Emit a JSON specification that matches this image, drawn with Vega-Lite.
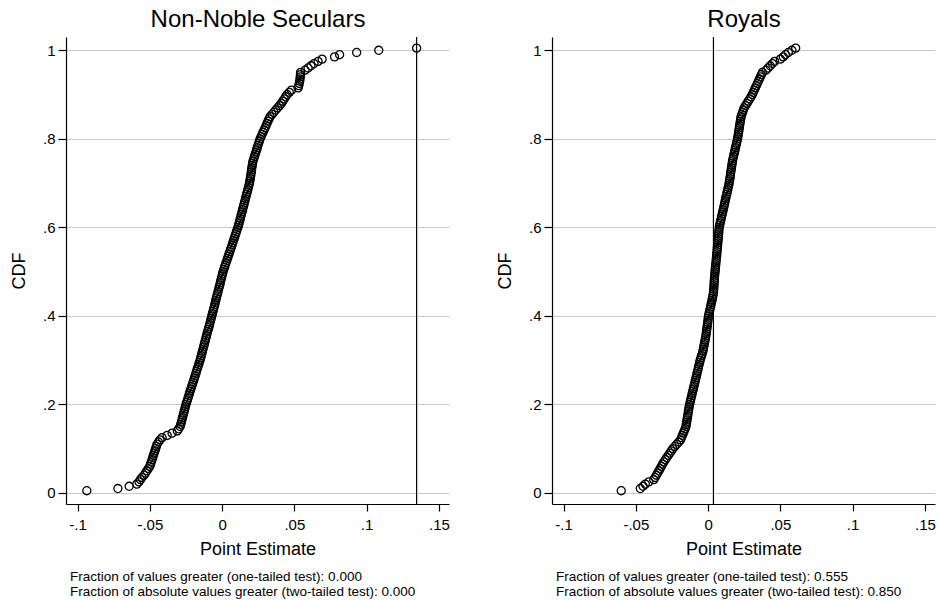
{
"$schema": "https://vega.github.io/schema/vega-lite/v6.json",
"background": "white",
"padding": {"left": 10, "top": 7, "right": 0, "bottom": 0},
"spacing": 46,
"config": {
  "font": "Liberation Sans",
  "view": {"stroke": null},
  "axis": {"labelColor": "black", "titleColor": "black", "domainColor": "black", "tickColor": "black", "labelFont": "Liberation Sans", "titleFont": "Liberation Sans", "titleFontWeight": "normal", "domainWidth": 1.2, "tickWidth": 1.2}
},
"datasets": {
"nns": [
{"cdf":0.005,"est":-0.0936},{"cdf":0.010,"est":-0.0721},{"cdf":0.015,"est":-0.0643},{"cdf":0.020,"est":-0.0590},{"cdf":0.025,"est":-0.0575},
{"cdf":0.030,"est":-0.0565},{"cdf":0.035,"est":-0.0555},{"cdf":0.040,"est":-0.0540},{"cdf":0.045,"est":-0.0530},{"cdf":0.050,"est":-0.0520},
{"cdf":0.055,"est":-0.0510},{"cdf":0.060,"est":-0.0500},{"cdf":0.065,"est":-0.0495},{"cdf":0.070,"est":-0.0490},{"cdf":0.075,"est":-0.0485},
{"cdf":0.080,"est":-0.0480},{"cdf":0.085,"est":-0.0475},{"cdf":0.090,"est":-0.0470},{"cdf":0.095,"est":-0.0465},{"cdf":0.100,"est":-0.0460},
{"cdf":0.105,"est":-0.0455},{"cdf":0.110,"est":-0.0450},{"cdf":0.115,"est":-0.0440},{"cdf":0.120,"est":-0.0430},{"cdf":0.125,"est":-0.0415},
{"cdf":0.130,"est":-0.0380},{"cdf":0.135,"est":-0.0346},{"cdf":0.140,"est":-0.0310},{"cdf":0.145,"est":-0.0300},{"cdf":0.150,"est":-0.0290},
{"cdf":0.155,"est":-0.0286},{"cdf":0.160,"est":-0.0282},{"cdf":0.165,"est":-0.0278},{"cdf":0.170,"est":-0.0274},{"cdf":0.175,"est":-0.0270},
{"cdf":0.180,"est":-0.0266},{"cdf":0.185,"est":-0.0262},{"cdf":0.190,"est":-0.0258},{"cdf":0.195,"est":-0.0254},{"cdf":0.200,"est":-0.0250},
{"cdf":0.205,"est":-0.0245},{"cdf":0.210,"est":-0.0240},{"cdf":0.215,"est":-0.0235},{"cdf":0.220,"est":-0.0230},{"cdf":0.225,"est":-0.0226},
{"cdf":0.230,"est":-0.0221},{"cdf":0.235,"est":-0.0216},{"cdf":0.240,"est":-0.0211},{"cdf":0.245,"est":-0.0206},{"cdf":0.250,"est":-0.0201},
{"cdf":0.255,"est":-0.0196},{"cdf":0.260,"est":-0.0191},{"cdf":0.265,"est":-0.0186},{"cdf":0.270,"est":-0.0181},{"cdf":0.275,"est":-0.0177},
{"cdf":0.280,"est":-0.0172},{"cdf":0.285,"est":-0.0167},{"cdf":0.290,"est":-0.0162},{"cdf":0.295,"est":-0.0157},{"cdf":0.300,"est":-0.0152},
{"cdf":0.305,"est":-0.0148},{"cdf":0.310,"est":-0.0144},{"cdf":0.315,"est":-0.0140},{"cdf":0.320,"est":-0.0136},{"cdf":0.325,"est":-0.0132},
{"cdf":0.330,"est":-0.0128},{"cdf":0.335,"est":-0.0124},{"cdf":0.340,"est":-0.0120},{"cdf":0.345,"est":-0.0116},{"cdf":0.350,"est":-0.0112},
{"cdf":0.355,"est":-0.0108},{"cdf":0.360,"est":-0.0104},{"cdf":0.365,"est":-0.0100},{"cdf":0.370,"est":-0.0095},{"cdf":0.375,"est":-0.0091},
{"cdf":0.380,"est":-0.0087},{"cdf":0.385,"est":-0.0083},{"cdf":0.390,"est":-0.0079},{"cdf":0.395,"est":-0.0075},{"cdf":0.400,"est":-0.0071},
{"cdf":0.405,"est":-0.0067},{"cdf":0.410,"est":-0.0063},{"cdf":0.415,"est":-0.0059},{"cdf":0.420,"est":-0.0055},{"cdf":0.425,"est":-0.0051},
{"cdf":0.430,"est":-0.0047},{"cdf":0.435,"est":-0.0044},{"cdf":0.440,"est":-0.0040},{"cdf":0.445,"est":-0.0036},{"cdf":0.450,"est":-0.0032},
{"cdf":0.455,"est":-0.0028},{"cdf":0.460,"est":-0.0024},{"cdf":0.465,"est":-0.0020},{"cdf":0.470,"est":-0.0016},{"cdf":0.475,"est":-0.0012},
{"cdf":0.480,"est":-0.0009},{"cdf":0.485,"est":-0.0005},{"cdf":0.490,"est":-0.0001},{"cdf":0.495,"est":0.0003},{"cdf":0.500,"est":0.0007},
{"cdf":0.505,"est":0.0012},{"cdf":0.510,"est":0.0017},{"cdf":0.515,"est":0.0022},{"cdf":0.520,"est":0.0027},{"cdf":0.525,"est":0.0033},
{"cdf":0.530,"est":0.0038},{"cdf":0.535,"est":0.0043},{"cdf":0.540,"est":0.0048},{"cdf":0.545,"est":0.0053},{"cdf":0.550,"est":0.0058},
{"cdf":0.555,"est":0.0064},{"cdf":0.560,"est":0.0069},{"cdf":0.565,"est":0.0074},{"cdf":0.570,"est":0.0079},{"cdf":0.575,"est":0.0084},
{"cdf":0.580,"est":0.0089},{"cdf":0.585,"est":0.0094},{"cdf":0.590,"est":0.0099},{"cdf":0.595,"est":0.0104},{"cdf":0.600,"est":0.0110},
{"cdf":0.605,"est":0.0114},{"cdf":0.610,"est":0.0118},{"cdf":0.615,"est":0.0122},{"cdf":0.620,"est":0.0126},{"cdf":0.625,"est":0.0130},
{"cdf":0.630,"est":0.0134},{"cdf":0.635,"est":0.0138},{"cdf":0.640,"est":0.0142},{"cdf":0.645,"est":0.0146},{"cdf":0.650,"est":0.0150},
{"cdf":0.655,"est":0.0154},{"cdf":0.660,"est":0.0158},{"cdf":0.665,"est":0.0162},{"cdf":0.670,"est":0.0166},{"cdf":0.675,"est":0.0170},
{"cdf":0.680,"est":0.0174},{"cdf":0.685,"est":0.0178},{"cdf":0.690,"est":0.0182},{"cdf":0.695,"est":0.0186},{"cdf":0.700,"est":0.0190},
{"cdf":0.705,"est":0.0192},{"cdf":0.710,"est":0.0195},{"cdf":0.715,"est":0.0197},{"cdf":0.720,"est":0.0200},{"cdf":0.725,"est":0.0202},
{"cdf":0.730,"est":0.0204},{"cdf":0.735,"est":0.0206},{"cdf":0.740,"est":0.0209},{"cdf":0.745,"est":0.0211},{"cdf":0.750,"est":0.0214},
{"cdf":0.755,"est":0.0219},{"cdf":0.760,"est":0.0224},{"cdf":0.765,"est":0.0229},{"cdf":0.770,"est":0.0234},{"cdf":0.775,"est":0.0239},
{"cdf":0.780,"est":0.0243},{"cdf":0.785,"est":0.0248},{"cdf":0.790,"est":0.0253},{"cdf":0.795,"est":0.0258},{"cdf":0.800,"est":0.0263},
{"cdf":0.805,"est":0.0270},{"cdf":0.810,"est":0.0277},{"cdf":0.815,"est":0.0284},{"cdf":0.820,"est":0.0291},{"cdf":0.825,"est":0.0298},
{"cdf":0.830,"est":0.0305},{"cdf":0.835,"est":0.0311},{"cdf":0.840,"est":0.0318},{"cdf":0.845,"est":0.0325},{"cdf":0.850,"est":0.0332},
{"cdf":0.855,"est":0.0345},{"cdf":0.860,"est":0.0358},{"cdf":0.865,"est":0.0371},{"cdf":0.870,"est":0.0384},{"cdf":0.875,"est":0.0397},
{"cdf":0.880,"est":0.0410},{"cdf":0.885,"est":0.0420},{"cdf":0.890,"est":0.0430},{"cdf":0.895,"est":0.0440},{"cdf":0.900,"est":0.0450},
{"cdf":0.905,"est":0.0465},{"cdf":0.910,"est":0.0480},{"cdf":0.915,"est":0.0526},{"cdf":0.920,"est":0.0530},{"cdf":0.925,"est":0.0534},
{"cdf":0.930,"est":0.0537},{"cdf":0.935,"est":0.0539},{"cdf":0.940,"est":0.0541},{"cdf":0.945,"est":0.0542},{"cdf":0.950,"est":0.0543},
{"cdf":0.955,"est":0.0574},{"cdf":0.960,"est":0.0595},{"cdf":0.965,"est":0.0615},{"cdf":0.970,"est":0.0636},{"cdf":0.975,"est":0.0664},
{"cdf":0.980,"est":0.0692},{"cdf":0.985,"est":0.0778},{"cdf":0.990,"est":0.0813},{"cdf":0.995,"est":0.0931},{"cdf":1.000,"est":0.1084},
{"cdf":1.005,"est":0.1346}
],
"roy": [
{"cdf":0.005,"est":-0.0601},{"cdf":0.010,"est":-0.0469},{"cdf":0.015,"est":-0.0450},{"cdf":0.020,"est":-0.0434},{"cdf":0.025,"est":-0.0410},
{"cdf":0.030,"est":-0.0376},{"cdf":0.035,"est":-0.0367},{"cdf":0.040,"est":-0.0358},{"cdf":0.045,"est":-0.0349},{"cdf":0.050,"est":-0.0340},
{"cdf":0.055,"est":-0.0332},{"cdf":0.060,"est":-0.0323},{"cdf":0.065,"est":-0.0315},{"cdf":0.070,"est":-0.0306},{"cdf":0.075,"est":-0.0296},
{"cdf":0.080,"est":-0.0286},{"cdf":0.085,"est":-0.0275},{"cdf":0.090,"est":-0.0265},{"cdf":0.095,"est":-0.0254},{"cdf":0.100,"est":-0.0244},
{"cdf":0.105,"est":-0.0230},{"cdf":0.110,"est":-0.0217},{"cdf":0.115,"est":-0.0203},{"cdf":0.120,"est":-0.0190},{"cdf":0.125,"est":-0.0184},
{"cdf":0.130,"est":-0.0178},{"cdf":0.135,"est":-0.0171},{"cdf":0.140,"est":-0.0165},{"cdf":0.145,"est":-0.0159},{"cdf":0.150,"est":-0.0153},
{"cdf":0.155,"est":-0.0151},{"cdf":0.160,"est":-0.0148},{"cdf":0.165,"est":-0.0146},{"cdf":0.170,"est":-0.0143},{"cdf":0.175,"est":-0.0141},
{"cdf":0.180,"est":-0.0138},{"cdf":0.185,"est":-0.0136},{"cdf":0.190,"est":-0.0133},{"cdf":0.195,"est":-0.0131},{"cdf":0.200,"est":-0.0128},
{"cdf":0.205,"est":-0.0124},{"cdf":0.210,"est":-0.0121},{"cdf":0.215,"est":-0.0117},{"cdf":0.220,"est":-0.0113},{"cdf":0.225,"est":-0.0110},
{"cdf":0.230,"est":-0.0106},{"cdf":0.235,"est":-0.0102},{"cdf":0.240,"est":-0.0099},{"cdf":0.245,"est":-0.0095},{"cdf":0.250,"est":-0.0091},
{"cdf":0.255,"est":-0.0088},{"cdf":0.260,"est":-0.0084},{"cdf":0.265,"est":-0.0080},{"cdf":0.270,"est":-0.0077},{"cdf":0.275,"est":-0.0073},
{"cdf":0.280,"est":-0.0069},{"cdf":0.285,"est":-0.0066},{"cdf":0.290,"est":-0.0062},{"cdf":0.295,"est":-0.0058},{"cdf":0.300,"est":-0.0055},
{"cdf":0.305,"est":-0.0050},{"cdf":0.310,"est":-0.0045},{"cdf":0.315,"est":-0.0040},{"cdf":0.320,"est":-0.0036},{"cdf":0.325,"est":-0.0033},
{"cdf":0.330,"est":-0.0030},{"cdf":0.335,"est":-0.0027},{"cdf":0.340,"est":-0.0024},{"cdf":0.345,"est":-0.0021},{"cdf":0.350,"est":-0.0018},
{"cdf":0.355,"est":-0.0015},{"cdf":0.360,"est":-0.0013},{"cdf":0.365,"est":-0.0011},{"cdf":0.370,"est":-0.0009},{"cdf":0.375,"est":-0.0007},
{"cdf":0.380,"est":-0.0005},{"cdf":0.385,"est":-0.0003},{"cdf":0.390,"est":-0.0001},{"cdf":0.395,"est":0.0001},{"cdf":0.400,"est":0.0003},
{"cdf":0.405,"est":0.0006},{"cdf":0.410,"est":0.0010},{"cdf":0.415,"est":0.0013},{"cdf":0.420,"est":0.0017},{"cdf":0.425,"est":0.0020},
{"cdf":0.430,"est":0.0023},{"cdf":0.435,"est":0.0027},{"cdf":0.440,"est":0.0030},{"cdf":0.445,"est":0.0033},{"cdf":0.450,"est":0.0036},
{"cdf":0.455,"est":0.0038},{"cdf":0.460,"est":0.0039},{"cdf":0.465,"est":0.0040},{"cdf":0.470,"est":0.0041},{"cdf":0.475,"est":0.0042},
{"cdf":0.480,"est":0.0043},{"cdf":0.485,"est":0.0044},{"cdf":0.490,"est":0.0045},{"cdf":0.495,"est":0.0047},{"cdf":0.500,"est":0.0048},
{"cdf":0.505,"est":0.0050},{"cdf":0.510,"est":0.0051},{"cdf":0.515,"est":0.0053},{"cdf":0.520,"est":0.0054},{"cdf":0.525,"est":0.0056},
{"cdf":0.530,"est":0.0057},{"cdf":0.535,"est":0.0059},{"cdf":0.540,"est":0.0060},{"cdf":0.545,"est":0.0062},{"cdf":0.550,"est":0.0063},
{"cdf":0.555,"est":0.0064},{"cdf":0.560,"est":0.0066},{"cdf":0.565,"est":0.0067},{"cdf":0.570,"est":0.0069},{"cdf":0.575,"est":0.0070},
{"cdf":0.580,"est":0.0071},{"cdf":0.585,"est":0.0073},{"cdf":0.590,"est":0.0074},{"cdf":0.595,"est":0.0076},{"cdf":0.600,"est":0.0077},
{"cdf":0.605,"est":0.0080},{"cdf":0.610,"est":0.0084},{"cdf":0.615,"est":0.0087},{"cdf":0.620,"est":0.0091},{"cdf":0.625,"est":0.0094},
{"cdf":0.630,"est":0.0098},{"cdf":0.635,"est":0.0101},{"cdf":0.640,"est":0.0105},{"cdf":0.645,"est":0.0108},{"cdf":0.650,"est":0.0112},
{"cdf":0.655,"est":0.0115},{"cdf":0.660,"est":0.0118},{"cdf":0.665,"est":0.0122},{"cdf":0.670,"est":0.0125},{"cdf":0.675,"est":0.0129},
{"cdf":0.680,"est":0.0132},{"cdf":0.685,"est":0.0136},{"cdf":0.690,"est":0.0139},{"cdf":0.695,"est":0.0143},{"cdf":0.700,"est":0.0146},
{"cdf":0.705,"est":0.0148},{"cdf":0.710,"est":0.0151},{"cdf":0.715,"est":0.0153},{"cdf":0.720,"est":0.0155},{"cdf":0.725,"est":0.0157},
{"cdf":0.730,"est":0.0160},{"cdf":0.735,"est":0.0162},{"cdf":0.740,"est":0.0164},{"cdf":0.745,"est":0.0167},{"cdf":0.750,"est":0.0169},
{"cdf":0.755,"est":0.0172},{"cdf":0.760,"est":0.0176},{"cdf":0.765,"est":0.0179},{"cdf":0.770,"est":0.0183},{"cdf":0.775,"est":0.0186},
{"cdf":0.780,"est":0.0190},{"cdf":0.785,"est":0.0193},{"cdf":0.790,"est":0.0197},{"cdf":0.795,"est":0.0200},{"cdf":0.800,"est":0.0204},
{"cdf":0.805,"est":0.0206},{"cdf":0.810,"est":0.0209},{"cdf":0.815,"est":0.0211},{"cdf":0.820,"est":0.0214},{"cdf":0.825,"est":0.0216},
{"cdf":0.830,"est":0.0218},{"cdf":0.835,"est":0.0221},{"cdf":0.840,"est":0.0223},{"cdf":0.845,"est":0.0226},{"cdf":0.850,"est":0.0228},
{"cdf":0.855,"est":0.0233},{"cdf":0.860,"est":0.0239},{"cdf":0.865,"est":0.0244},{"cdf":0.870,"est":0.0250},{"cdf":0.875,"est":0.0259},
{"cdf":0.880,"est":0.0269},{"cdf":0.885,"est":0.0278},{"cdf":0.890,"est":0.0288},{"cdf":0.895,"est":0.0297},{"cdf":0.900,"est":0.0306},
{"cdf":0.905,"est":0.0313},{"cdf":0.910,"est":0.0320},{"cdf":0.915,"est":0.0327},{"cdf":0.920,"est":0.0334},{"cdf":0.925,"est":0.0341},
{"cdf":0.930,"est":0.0348},{"cdf":0.935,"est":0.0355},{"cdf":0.940,"est":0.0362},{"cdf":0.945,"est":0.0369},{"cdf":0.950,"est":0.0376},
{"cdf":0.955,"est":0.0400},{"cdf":0.960,"est":0.0415},{"cdf":0.965,"est":0.0430},{"cdf":0.970,"est":0.0445},{"cdf":0.975,"est":0.0460},
{"cdf":0.980,"est":0.0500},{"cdf":0.985,"est":0.0520},{"cdf":0.990,"est":0.0535},{"cdf":0.995,"est":0.0555},{"cdf":1.000,"est":0.0580},
{"cdf":1.005,"est":0.0606}
]
},
"hconcat": [
{
  "width": 383, "height": 467,
  "title": {"text": ["Fraction of values greater (one-tailed test): 0.000", "Fraction of absolute values greater (two-tailed test): 0.000"], "orient": "bottom", "anchor": "start", "frame": "group", "fontSize": 13.5, "fontWeight": "normal", "font": "Liberation Sans", "color": "black", "offset": 12, "lineHeight": 15, "dx": 4},
  "layer": [
    {
      "data": {"name": "nns"},
      "mark": {"type": "point", "shape": "circle", "filled": false, "stroke": "black", "strokeWidth": 1.3, "size": 65, "opacity": 1},
      "encoding": {
        "x": {"field": "est", "type": "quantitative", "scale": {"domain": [-0.108, 0.157], "nice": false, "zero": false},
          "axis": {"orient": "bottom", "title": "Point Estimate", "titleFontSize": 18, "titlePadding": 8, "labelFontSize": 15, "labelPadding": 6, "tickSize": 7, "grid": false, "values": [-0.1, -0.05, 0, 0.05, 0.1, 0.15], "labelExpr": "datum.value == 0 ? '0' : (datum.value < 0 ? '-' : '') + replace(format(abs(datum.value), '.2~f'), '0.', '.')"}},
        "y": {"field": "cdf", "type": "quantitative", "scale": {"domain": [-0.025, 1.03], "nice": false, "zero": false},
          "axis": {"title": "CDF", "titleFontSize": 18, "titlePadding": 14, "labelFontSize": 15, "labelPadding": 3, "tickSize": 8, "labelAngle": 0, "grid": true, "gridColor": "#c8c8c8", "gridWidth": 1, "values": [0, 0.2, 0.4, 0.6, 0.8, 1], "labelExpr": "datum.value == 0 ? '0' : datum.value == 1 ? '1' : replace(format(datum.value, '.1f'), '0.', '.')"}}
      }
    },
    {
      "data": {"values": [{"actual": 0.1346}]},
      "mark": {"type": "rule", "color": "black", "strokeWidth": 1.2},
      "encoding": {
        "x": {"field": "actual", "type": "quantitative", "axis": {"orient": "top", "title": "Non-Noble Seculars", "titleFontSize": 24, "titlePadding": 6, "labels": false, "ticks": false, "domain": false, "grid": false}}
      }
    }
  ],
  "resolve": {"axis": {"x": "independent"}}
},
{
  "width": 383, "height": 467,
  "title": {"text": ["Fraction of values greater (one-tailed test): 0.555", "Fraction of absolute values greater (two-tailed test): 0.850"], "orient": "bottom", "anchor": "start", "frame": "group", "fontSize": 13.5, "fontWeight": "normal", "font": "Liberation Sans", "color": "black", "offset": 12, "lineHeight": 15, "dx": 4},
  "layer": [
    {
      "data": {"name": "roy"},
      "mark": {"type": "point", "shape": "circle", "filled": false, "stroke": "black", "strokeWidth": 1.3, "size": 65, "opacity": 1},
      "encoding": {
        "x": {"field": "est", "type": "quantitative", "scale": {"domain": [-0.108, 0.157], "nice": false, "zero": false},
          "axis": {"orient": "bottom", "title": "Point Estimate", "titleFontSize": 18, "titlePadding": 8, "labelFontSize": 15, "labelPadding": 6, "tickSize": 7, "grid": false, "values": [-0.1, -0.05, 0, 0.05, 0.1, 0.15], "labelExpr": "datum.value == 0 ? '0' : (datum.value < 0 ? '-' : '') + replace(format(abs(datum.value), '.2~f'), '0.', '.')"}},
        "y": {"field": "cdf", "type": "quantitative", "scale": {"domain": [-0.025, 1.03], "nice": false, "zero": false},
          "axis": {"title": "CDF", "titleFontSize": 18, "titlePadding": 14, "labelFontSize": 15, "labelPadding": 3, "tickSize": 8, "labelAngle": 0, "grid": true, "gridColor": "#c8c8c8", "gridWidth": 1, "values": [0, 0.2, 0.4, 0.6, 0.8, 1], "labelExpr": "datum.value == 0 ? '0' : datum.value == 1 ? '1' : replace(format(datum.value, '.1f'), '0.', '.')"}}
      }
    },
    {
      "data": {"values": [{"actual": 0.0037}]},
      "mark": {"type": "rule", "color": "black", "strokeWidth": 1.2},
      "encoding": {
        "x": {"field": "actual", "type": "quantitative", "axis": {"orient": "top", "title": "Royals", "titleFontSize": 24, "titlePadding": 6, "labels": false, "ticks": false, "domain": false, "grid": false}}
      }
    }
  ],
  "resolve": {"axis": {"x": "independent"}}
}
]
}
